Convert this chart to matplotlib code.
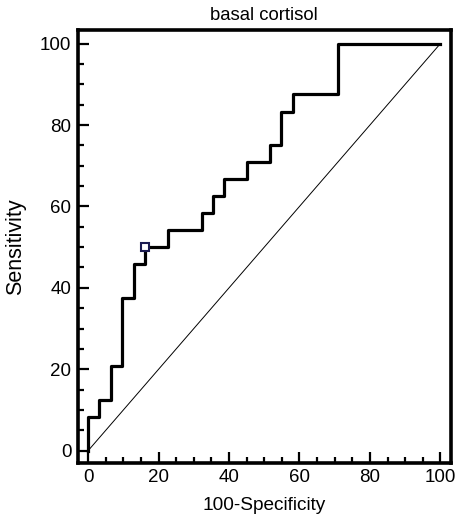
import matplotlib
matplotlib.use("Agg")
import matplotlib.pyplot as plt
from matplotlib.ticker import MultipleLocator

plt.rcParams['font.family'] = ['Liberation Sans', 'DejaVu Sans']

# ROC curve for basal cortisol
fpr = [0, 0, 3.2, 6.5, 9.7, 12.9, 16.1, 22.6, 32.3, 35.5, 38.7, 45.2, 51.6, 54.8, 58.1, 71.0, 100]
sens = [0, 8.3, 12.5, 20.8, 37.5, 45.8, 50.0, 54.2, 58.3, 62.5, 66.7, 70.8, 75.0, 83.3, 87.5, 100, 100]

# optimal cut-off point
cut_x = [16.1]
cut_y = [50.0]

diag = [0, 100]

fig = plt.figure(figsize=(4.59, 5.29), dpi=100)
ax = fig.add_axes([0.169, 0.125, 0.8135, 0.818])

ax.plot(diag, diag, color='black', lw=0.7)
ax.step(fpr, sens, where='post', color='black', lw=2.3)
ax.plot(cut_x, cut_y, 's', ms=6, mfc='white', mec='#1a1a50', mew=1.5)

ax.set_xlim(-3, 103)
ax.set_ylim(-3, 103.3)

ax.xaxis.set_major_locator(MultipleLocator(20))
ax.xaxis.set_minor_locator(MultipleLocator(5))
ax.yaxis.set_major_locator(MultipleLocator(20))
ax.yaxis.set_minor_locator(MultipleLocator(5))

ax.tick_params(which='both', direction='in', width=1.6, labelsize=13.5, top=False, right=False)
ax.tick_params(which='major', length=8, pad=4.5)
ax.tick_params(which='minor', length=4.3)

for s in ax.spines.values():
    s.set_linewidth(2.6)

ax.set_title('basal cortisol', fontsize=13.3, pad=7)
ax.set_xlabel('100-Specificity', fontsize=13.7, labelpad=8)
ax.set_ylabel('Sensitivity', fontsize=15.5, labelpad=10)

fig.savefig('out.png', dpi=100)
